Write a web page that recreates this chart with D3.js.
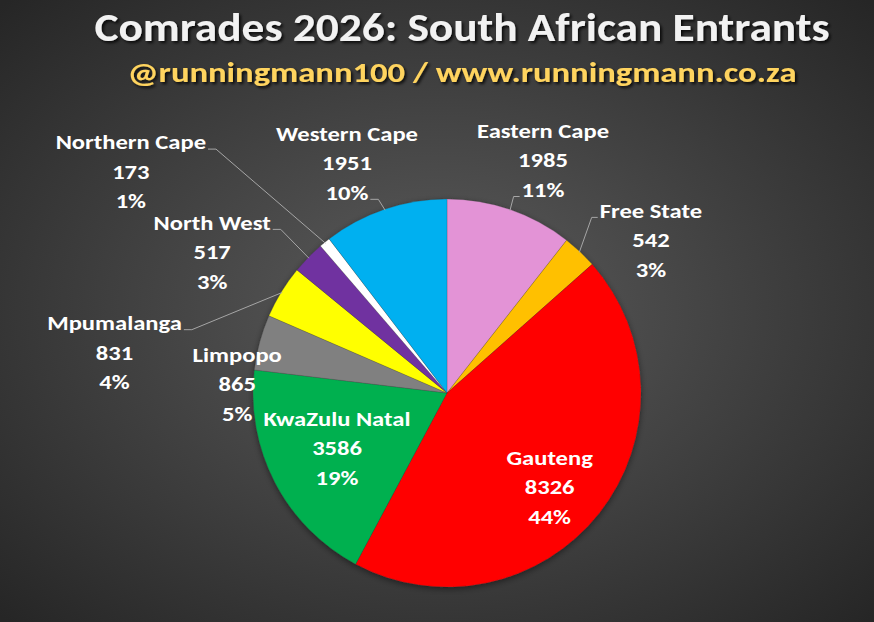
<!DOCTYPE html>
<html>
<head>
<meta charset="utf-8">
<script src="https://cdn.jsdelivr.net/npm/d3@7"></script>
<style>
  html, body { margin: 0; padding: 0; background: #333; }
  svg { display: block; }
  text { font-family: Calibri, Carlito, Lato, "Open Sans", sans-serif; font-weight: bold; }
</style>
</head>
<body>
<div id="chart"></div>
<script>
// data
const provinces = ["Eastern Cape", "Free State", "Gauteng", "KwaZulu Natal", "Limpopo",
                   "Mpumalanga", "North West", "Northern Cape", "Western Cape"];
const entrants = [1985, 542, 8326, 3586, 865, 831, 517, 173, 1951];
const sliceColors = ["#E393D6", "#FFC000", "#FF0000", "#00B050", "#808080",
                     "#FFFF00", "#7030A0", "#FFFFFF", "#00B0F0"];
const titleText = "Comrades 2026: South African Entrants";
const subtitleText = "@runningmann100 / www.runningmann.co.za";

// label placement: polar position of label centre (deg clockwise from top, radius),
// and where the leader line leaves the text (line index, side)
const labelLayout = {
  "Eastern Cape":  { a: 22.4,  r: 252, lead: { line: 2, side: "left" } },
  "Free State":    { a: 53.1,  r: 255, lead: { line: 0, side: "left" } },
  "Gauteng":       { a: 132.4, r: 139 },
  "KwaZulu Natal": { a: 243.4, r: 123 },
  "Limpopo":       { a: 272.5, r: 210 },
  "Mpumalanga":    { a: 277,   r: 335, lead: { line: 0, side: "right" } },
  "North West":    { a: 301,   r: 274, lead: { line: 0, side: "right" } },
  "Northern Cape": { a: 305,   r: 386, lead: { line: 0, side: "right" } },
  "Western Cape":  { a: 336.5, r: 251, lead: { line: 2, side: "right" } }
};

const W = 874, H = 622;
const cx = 447, cy = 393, R = 194;
const lineGap = 29.5;
const labelStretch = 1.17; // Calibri-like width from the fallback font

const svg = d3.select("#chart").append("svg")
  .attr("width", W).attr("height", H);

const defs = svg.append("defs");
const bg = defs.append("radialGradient").attr("id", "bg")
  .attr("cx", "50%").attr("cy", "50%").attr("r", "70%");
bg.append("stop").attr("offset", "0%").attr("stop-color", "#5c5c5c");
bg.append("stop").attr("offset", "100%").attr("stop-color", "#262626");

const sh = defs.append("filter").attr("id", "shadow")
  .attr("x", "-10%").attr("y", "-30%").attr("width", "120%").attr("height", "160%");
sh.append("feDropShadow").attr("dx", 2).attr("dy", 2).attr("stdDeviation", 1.5)
  .attr("flood-color", "#000").attr("flood-opacity", 0.8);

const pieSh = defs.append("filter").attr("id", "pieshadow")
  .attr("x", "-10%").attr("y", "-10%").attr("width", "120%").attr("height", "120%");
pieSh.append("feDropShadow").attr("dx", 0).attr("dy", 2).attr("stdDeviation", 3)
  .attr("flood-color", "#000").attr("flood-opacity", 0.45);

svg.append("rect").attr("width", W).attr("height", H).attr("fill", "url(#bg)");

// titles
svg.append("text")
  .attr("x", 462).attr("y", 41)
  .attr("text-anchor", "middle")
  .attr("font-size", 40)
  .attr("textLength", 735)
  .attr("lengthAdjust", "spacingAndGlyphs")
  .attr("fill", "#F2F2F2")
  .attr("filter", "url(#shadow)")
  .text(titleText);

svg.append("text")
  .attr("x", 462).attr("y", 82)
  .attr("text-anchor", "middle")
  .attr("font-size", 28)
  .attr("textLength", 669)
  .attr("lengthAdjust", "spacingAndGlyphs")
  .attr("fill", "#FFD45E")
  .attr("filter", "url(#shadow)")
  .text(subtitleText);

// pie
const total = d3.sum(entrants);
const rows = provinces.map((p, i) => ({ name: p, value: entrants[i], color: sliceColors[i] }));
const pie = d3.pie().value(d => d.value).sort(null);
const arc = d3.arc().innerRadius(0).outerRadius(R);
const arcs = pie(rows);

const g = svg.append("g").attr("transform", `translate(${cx},${cy})`);

g.append("g").attr("filter", "url(#pieshadow)")
  .selectAll("path")
  .data(arcs)
  .enter().append("path")
  .attr("d", arc)
  .attr("fill", d => d.data.color)
  .attr("stroke", "rgba(60,60,60,0.35)")
  .attr("stroke-width", 0.6);

// labels
const pctFmt = v => Math.round(v / total * 100) + "%";
const toXY = (a, r) => {
  const t = a * Math.PI / 180;
  return [r * Math.sin(t), -r * Math.cos(t)];
};

const leaders = g.append("g");
const labels = g.append("g");

arcs.forEach(d => {
  const lay = labelLayout[d.data.name];
  const [lx, ly] = toXY(lay.a, lay.r);
  const lines = [d.data.name, d.data.value, pctFmt(d.data.value)];
  const txt = labels.append("g");
  const nodes = lines.map((s, i) => {
    const t = txt.append("text")
      .attr("x", lx)
      .attr("y", ly + (i - 1) * lineGap)
      .attr("dy", "0.35em")
      .attr("text-anchor", "middle")
      .attr("font-size", 21)
      .attr("fill", "#FFFFFF")
      .text(s);
    const len = t.node().getComputedTextLength();
    t.attr("textLength", len * labelStretch).attr("lengthAdjust", "spacingAndGlyphs");
    return t;
  });

  if (lay.lead) {
    const bb = nodes[lay.lead.line].node().getBBox();
    const y0 = ly + (lay.lead.line - 1) * lineGap + 7;
    const x0 = lay.lead.side === "right" ? bb.x + bb.width + 2 : bb.x - 2;
    const x1 = lay.lead.side === "right" ? x0 + 8 : x0 - 6;
    const mid = (d.startAngle + d.endAngle) / 2 * 180 / Math.PI;
    const [ex, ey] = toXY(mid, R - 1);
    leaders.append("polyline")
      .attr("points", [[x0, y0], [x1, y0], [ex, ey]].map(p => p.join(",")).join(" "))
      .attr("fill", "none")
      .attr("stroke", "#A6A6A6")
      .attr("stroke-width", 1);
  }
});
</script>
</body>
</html>
